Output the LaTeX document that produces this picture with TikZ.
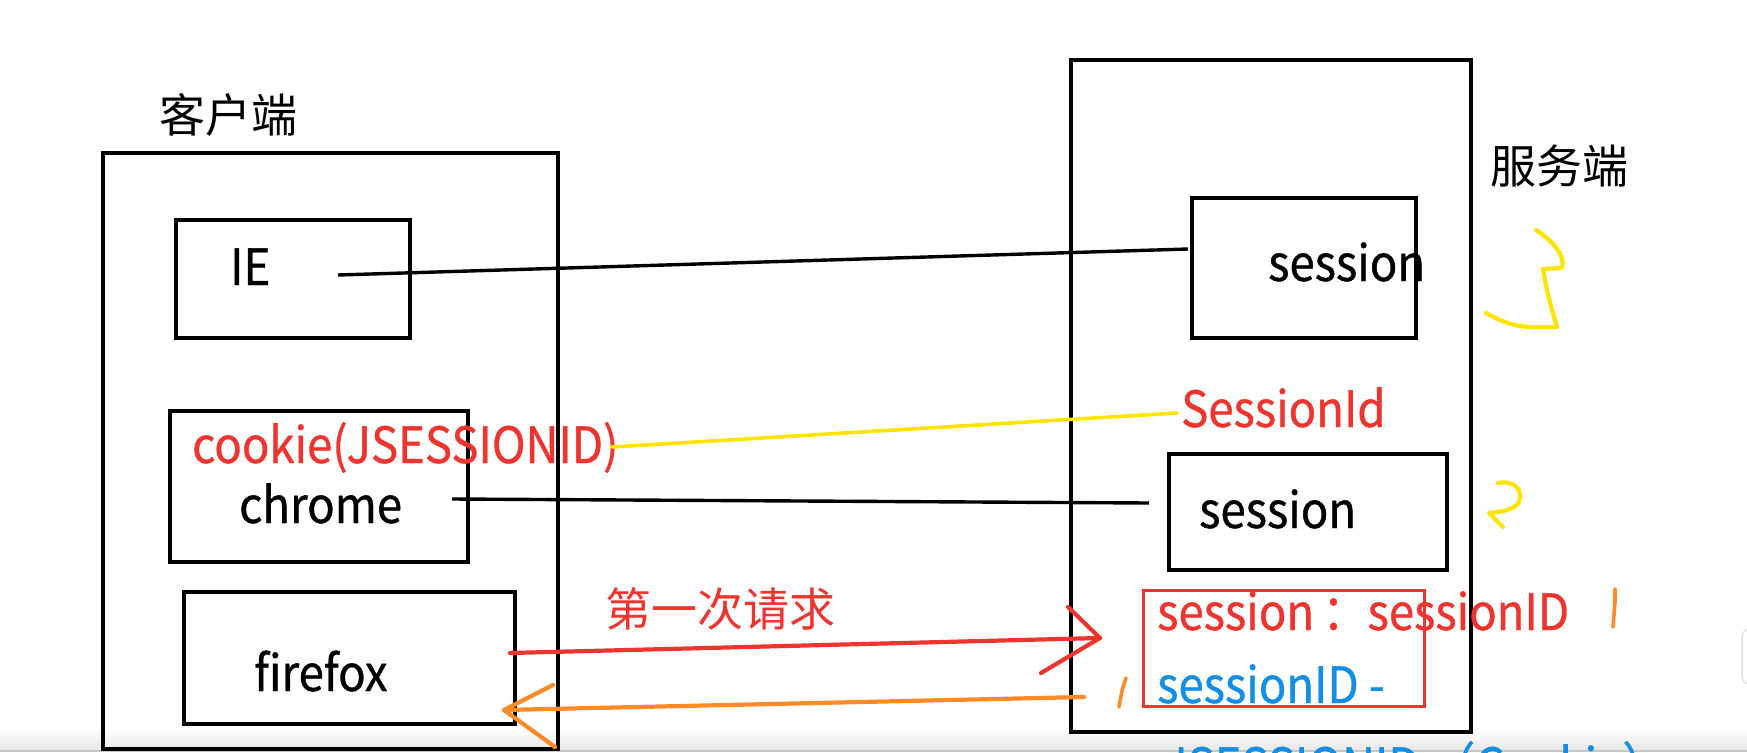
\documentclass[tikz,border=0pt]{standalone}
\usepackage{fontspec}
\setmainfont[FakeStretch=0.91,FakeBold=0.7]{Noto Sans CJK SC}
\newfontfamily\cjk{Noto Sans CJK SC}
\definecolor{penred}{RGB}{238,52,46}
\definecolor{penorange}{RGB}{255,138,40}
\definecolor{penyellow}{RGB}{255,228,0}
\definecolor{txtblue}{RGB}{18,142,228}
\tikzset{
  box/.style={draw=black, line width=3.6pt, inner sep=0pt, anchor=north west},
  redbox/.style={draw=penred, line width=3.4pt, inner sep=0pt, anchor=north west},
  txt/.style={inner sep=0pt, anchor=base west, font=\fontsize{50}{60}\selectfont},
  cjktxt/.style={inner sep=0pt, anchor=center, font=\cjk\fontsize{46}{55}\selectfont},
  blackline/.style={line width=3.4pt, black},
  pen/.style={line width=4.2pt, line cap=round, line join=round},
}
\begin{document}
\begin{tikzpicture}[x=1pt,y=-1pt]
\useasboundingbox (0,0) rectangle (1747,752);
\clip (0,0) rectangle (1747,752);
% bottom bar of the screenshot
\shade[top color=white, bottom color=black!9] (0,728) rectangle (1747,750);
\fill[black!22] (0,750) rectangle (1747,752);
\draw[black!12, line width=1.5pt, fill=white, rounded corners=9pt] (1742,628) rectangle (1775,685);

% titles
\node[cjktxt] (clientlabel) at (228,115) {客户端};
\node[cjktxt] (serverlabel) at (1559,166) {服务端};

% client side
\node[box, minimum width=455pt, minimum height=596pt] (client) at (101,151) {};
\node[box, minimum width=234pt, minimum height=118pt] (iebox) at (174,218) {};
\node[box, minimum width=298pt, minimum height=151pt] (chromebox) at (168,409) {};
\node[box, minimum width=331pt, minimum height=132pt] (firefoxbox) at (182,590) {};
\node[txt] (ie) at (230,285) {IE};
\node[txt, text=penred] (cookie) at (192,463) {cookie(JSESSIONID)};
\node[txt] (chrome) at (239,523) {chrome};
\node[txt] (firefox) at (254,691) {firefox};

% server side
\node[box, minimum width=400pt, minimum height=672pt] (server) at (1069,58) {};
\node[box, minimum width=224pt, minimum height=140pt] (sess1box) at (1190,196) {};
\node[box, minimum width=278pt, minimum height=116pt] (sess2box) at (1167,452) {};
\node[redbox, minimum width=281pt, minimum height=116pt] (mapbox) at (1142,589) {};
\node[txt] (sess1) at (1268,281) {session};
\node[txt, text=penred] (sessid) at (1181,427) {SessionId};
\node[txt] (sess2) at (1199,528) {session};
\node[txt, text=penred] (mapline) at (1157,630) {session\hspace{8pt}：sessionID};
\node[txt, text=txtblue] (mapline2) at (1157,703) {sessionID -};
\node[txt, text=txtblue] (mapline3) at (1163,784) {JSESSIONID （Cookie）};
\node[cjktxt, text=penred] (firstreq) at (720,609) {第一次请求};

% connector end points
\coordinate (ieS) at (338,275);
\coordinate (ieE) at (1188,249);
\coordinate (chS) at (452,499);
\coordinate (chE) at (1149,503);
\coordinate (ckS) at (612,447);
\coordinate (ckE) at (1177,413);
\coordinate (rqS) at (510,653);
\coordinate (rqT) at (1100,638);
\coordinate (rqA) at (1068,607);
\coordinate (rqB) at (1041,673);
\coordinate (rsS) at (1084,697);
\coordinate (rsT) at (504,710);
\coordinate (rsA) at (553,685);
\coordinate (rsB) at (555,747);

% connectors
\draw[blackline] (ieS) -- (ieE);
\draw[blackline] (chS) -- (chE);
\draw[pen, penyellow, line width=3.6pt] (ckS) -- (ckE);
\draw[pen, penred] (rqS) -- (rqT);
\draw[pen, penred] (rqA) -- (rqT) -- (rqB);
\draw[pen, penorange] (rsS) -- (rsT);
\draw[pen, penorange] (rsA) -- (rsT) -- (rsB);

% hand-written numbers
\draw[pen, penyellow] (1536,230) .. controls (1552,240) and (1566,256) .. (1562,268) -- (1543,269) .. controls (1546,290) and (1552,310) .. (1557,327) -- (1529,327) .. controls (1510,326) and (1495,318) .. (1486,313);
\draw[pen, penyellow] (1498,483) .. controls (1512,480) and (1522,488) .. (1520,499) .. controls (1518,510) and (1500,512) .. (1489,513) -- (1503,527);
\draw[pen, penorange, line width=3.6pt] (1615,589) -- (1615,602) -- (1613,627);
\draw[pen, penorange, line width=3.6pt] (1126,678) .. controls (1122,690) .. (1119,707);
\end{tikzpicture}
\end{document}
